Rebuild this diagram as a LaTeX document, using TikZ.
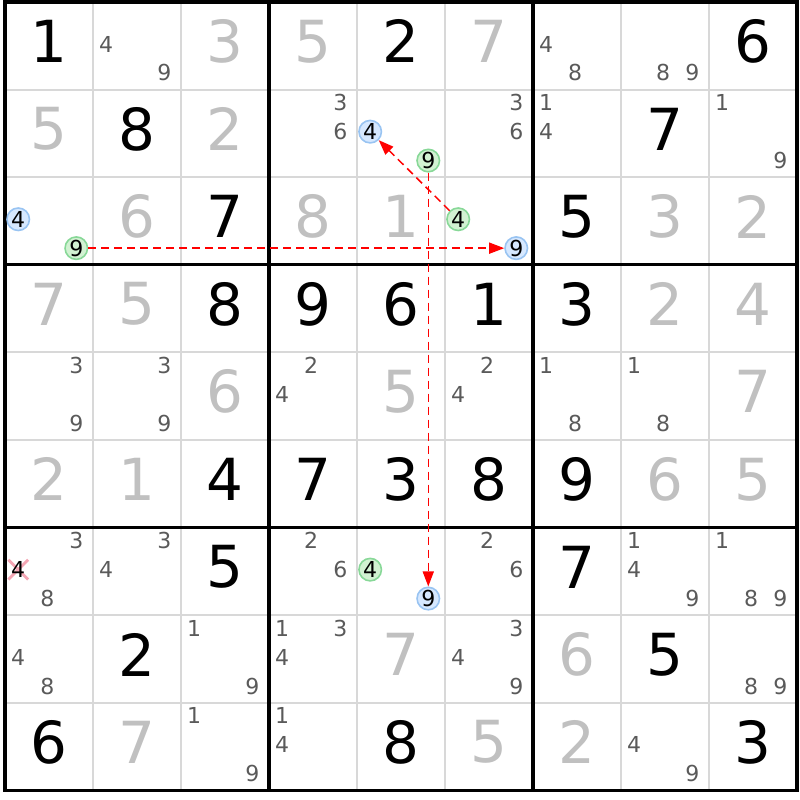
\documentclass[tikz,border=0pt]{standalone}
\usepackage{fontspec}
\setmainfont{DejaVu Sans}
\usetikzlibrary{arrows.meta,shapes.misc}

\definecolor{candgray}{HTML}{5A5A5A}
\definecolor{solvedgray}{HTML}{C0C0C0}
\definecolor{gridgray}{HTML}{D8D8D8}
\definecolor{ongreen}{HTML}{D2F2D2}
\definecolor{ongreenline}{HTML}{88D898}
\definecolor{offblue}{HTML}{D6E8FF}
\definecolor{offblueline}{HTML}{99C4F2}
\definecolor{elimpink}{HTML}{F4A6B4}

\tikzset{
    given/.style={font=\fontsize{58}{58}\selectfont, text=black, inner sep=0pt},
    solved/.style={given, text=solvedgray},
    cand/.style={font=\fontsize{22}{22}\selectfont, text=candgray, inner sep=0pt},
    oncand/.style={cand, text=black, circle, draw=ongreenline, fill=ongreen, line width=1.6pt, minimum size=22.5pt},
    offcand/.style={oncand, draw=offblueline, fill=offblue},
    elimmark/.style={cross out, draw=elimpink, line width=2.8pt, minimum size=17pt, inner sep=0pt},
    link/.style={-{Triangle[length=15pt,width=11pt]}, red, line width=1.5pt, dash pattern=on 8pt off 5pt}
}

\begin{document}
\begin{tikzpicture}[x=88pt, y=-87.6pt]
    \useasboundingbox (-0.057,-0.023) rectangle (9.034,9.11);

    % Cell lines
    \foreach \i in {1,2,4,5,7,8} {
        \draw[gridgray, line width=2pt] (\i,0) -- (\i,9);
        \draw[gridgray, line width=2pt] (0,\i) -- (9,\i);
    }
    % Box lines
    \foreach \i in {0,3,6,9} {
        \draw[black, line width=3.2pt] (\i,-0.018) -- (\i,9.018);
        \draw[black, line width=3.2pt] (-0.018,\i) -- (9.018,\i);
    }

    % Given digits
    \foreach \row/\col/\val in {1/1/1, 1/5/2, 1/9/6, 2/2/8, 2/8/7, 3/3/7, 3/7/5,
        4/3/8, 4/4/9, 4/5/6, 4/6/1, 4/7/3, 6/3/4, 6/4/7, 6/5/3, 6/6/8, 6/7/9,
        7/3/5, 7/7/7, 8/2/2, 8/8/5, 9/1/6, 9/5/8, 9/9/3}
        \node[given] (g\row\col) at (\col-0.5, \row-0.55) {\val};

    % Solved digits
    \foreach \row/\col/\val in {1/3/3, 1/4/5, 1/6/7, 2/1/5, 2/3/2, 3/2/6, 3/4/8,
        3/5/1, 3/8/3, 3/9/2, 4/1/7, 4/2/5, 4/8/2, 4/9/4, 5/3/6, 5/5/5, 5/9/7,
        6/1/2, 6/2/1, 6/8/6, 6/9/5, 8/5/7, 8/7/6, 9/2/7, 9/6/5, 9/7/2}
        \node[solved] (s\row\col) at (\col-0.5, \row-0.55) {\val};

    % Pencil marks
    \foreach \row/\col/\val in {1/2/4, 1/2/9, 1/7/4, 1/7/8, 1/8/8, 1/8/9,
        2/4/3, 2/4/6, 2/6/3, 2/6/6, 2/7/1, 2/7/4, 2/9/1, 2/9/9,
        5/1/3, 5/1/9, 5/2/3, 5/2/9, 5/4/2, 5/4/4, 5/6/2, 5/6/4, 5/7/1, 5/7/8, 5/8/1, 5/8/8,
        7/1/3, 7/1/8, 7/2/3, 7/2/4, 7/4/2, 7/4/6, 7/6/2, 7/6/6, 7/8/1, 7/8/4, 7/8/9,
        7/9/1, 7/9/8, 7/9/9,
        8/1/4, 8/1/8, 8/3/1, 8/3/9, 8/4/1, 8/4/3, 8/4/4, 8/6/3, 8/6/4, 8/6/9, 8/9/8, 8/9/9,
        9/3/1, 9/3/9, 9/4/1, 9/4/4, 9/8/4, 9/8/9} {
        \pgfmathtruncatemacro{\dx}{mod(\val-1,3)}
        \pgfmathtruncatemacro{\dy}{(\val-1)/3}
        \node[cand] (c\row\col\val) at ({\col-0.85+0.33*\dx}, {\row-0.85+0.33*\dy}) {\val};
    }

    % Eliminated candidate
    \node[elimmark] (x714) at (0.15, 6.48) {};
    \node[cand, text=black] (c714) at (0.15, 6.48) {4};

    % Chain candidates
    \node[oncand] (c319) at (0.81, 2.81) {9};
    \node[offcand] (c314) at (0.15, 2.48) {4};
    \node[oncand] (c364) at (5.15, 2.48) {4};
    \node[offcand] (c369) at (5.81, 2.81) {9};
    \node[oncand] (c259) at (4.81, 1.81) {9};
    \node[offcand] (c254) at (4.15, 1.48) {4};
    \node[oncand] (c754) at (4.15, 6.48) {4};
    \node[offcand] (c759) at (4.81, 6.81) {9};

    % Links
    \draw[link] (c319) -- (c369);
    \draw[link] (c364) -- (c254);
    \draw[link] (c259) -- (c759);
\end{tikzpicture}
\end{document}
